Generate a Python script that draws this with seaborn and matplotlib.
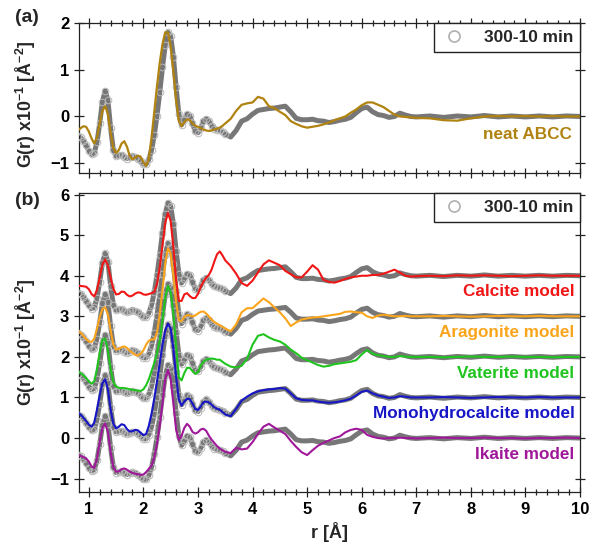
import numpy as np
import pandas as pd
import matplotlib
matplotlib.use("Agg")
import matplotlib.pyplot as plt
from matplotlib.lines import Line2D
from matplotlib.ticker import MultipleLocator
import seaborn as sns

sns.set_style("ticks")
plt.rcParams["font.family"] = ["Liberation Sans", "DejaVu Sans"]
plt.rcParams["font.weight"] = "bold"
plt.rcParams["mathtext.fontset"] = "custom"
plt.rcParams["mathtext.rm"] = "Liberation Sans:bold"
plt.rcParams["mathtext.bf"] = "Liberation Sans:bold"
plt.rcParams["mathtext.default"] = "bf"

# r grid [A]
r = np.round(np.concatenate([np.arange(0.80, 3.501, 0.05),
                             np.arange(3.6, 7.001, 0.1),
                             np.arange(7.25, 10.001, 0.25)]), 2)

# experimental 300-10 min difference PDF
exp_g = [-0.42, -0.45, -0.52, -0.62, -0.73, -0.81, -0.78, -0.55, -0.15, 0.32, 0.55,
         0.35, -0.25, -0.72, -0.85, -0.83, -0.82, -0.87, -0.90, -0.87, -0.84, -0.86, -0.90, -0.96, -1.02, -1.02,
         -0.92, -0.72, -0.40, 0.02, 0.52, 1.05, 1.52, 1.80, 1.72, 1.28, 0.62, 0.05, -0.18, -0.08, 0.05,
         0.02, -0.15, -0.32, -0.35, -0.25, -0.10, -0.05, -0.10, -0.20, -0.26, -0.28, -0.30, -0.33, -0.38,
         -0.44, -0.30, -0.10, -0.05, 0.05, 0.13, 0.15, 0.17, 0.18, 0.20,
         0.22, 0.10, -0.04, -0.07, -0.07, -0.06, -0.09, -0.10, -0.13, -0.11,
         -0.08, -0.06, -0.02, 0.08, 0.17, 0.20, 0.10, 0.04, 0.02, -0.02,
         0.00, 0.07, 0.03, 0.00, -0.01,
         0.01, -0.02, 0.01, -0.01, 0.02, -0.01, 0.01, -0.01, 0.01, -0.01, 0.01, 0.00]

abcc_g = [-0.30, -0.25, -0.21, -0.22, -0.32, -0.47, -0.58, -0.45, -0.15, 0.12, 0.22,
          0.05, -0.35, -0.68, -0.78, -0.72, -0.58, -0.53, -0.65, -0.85, -0.92, -0.88, -0.84, -0.86, -0.98, -1.06,
          -0.90, -0.45, 0.10, 0.65, 1.15, 1.55, 1.80, 1.80, 1.50, 0.95, 0.35, -0.10, -0.21, -0.12, -0.06,
          -0.08, -0.15, -0.20, -0.22, -0.25, -0.28, -0.30, -0.31, -0.30, -0.28, -0.26, -0.24, -0.20, -0.15,
          -0.05, 0.12, 0.25, 0.28, 0.30, 0.42, 0.38, 0.22, 0.18, 0.10,
          0.03, -0.10, -0.16, -0.21, -0.24, -0.22, -0.20, -0.17, -0.13, -0.08,
          -0.04, 0.00, 0.08, 0.15, 0.24, 0.30, 0.30, 0.25, 0.20, 0.12,
          0.04, 0.00, -0.01, -0.02, -0.03,
          -0.04, -0.08, -0.09, -0.04, 0.00, 0.01, 0.00, 0.01, 0.00, 0.01, 0.00, 0.00]

calcite_g = [-0.25, -0.25, -0.26, -0.27, -0.33, -0.45, -0.51, -0.35, -0.05, 0.28, 0.40,
             0.25, -0.05, -0.32, -0.46, -0.45, -0.39, -0.40, -0.47, -0.51, -0.49, -0.44, -0.41, -0.42, -0.46, -0.47,
             -0.45, -0.43, -0.40, -0.20, 0.20, 0.75, 1.30, 1.55, 1.35, 0.70, -0.10, -0.62, -0.62, -0.46, -0.43,
             -0.50, -0.55, -0.55, -0.45, -0.28, -0.15, -0.05, 0.02, 0.15, 0.35, 0.53, 0.60, 0.50, 0.38,
             0.24, 0.05, -0.18, -0.25, -0.12, 0.08, 0.28, 0.38, 0.32, 0.26,
             0.12, 0.04, -0.04, -0.04, 0.10, 0.26, 0.15, -0.10, -0.15, -0.17,
             -0.13, -0.08, -0.04, -0.02, 0.00, 0.00, 0.02, 0.02, 0.05, 0.10,
             0.15, 0.08, 0.00, -0.02, -0.01,
             0.00, -0.01, 0.01, 0.00, 0.01, 0.00, -0.01, 0.00, 0.01, 0.00, 0.00, 0.00]

aragonite_g = [-0.38, -0.40, -0.48, -0.56, -0.62, -0.63, -0.55, -0.30, -0.02, 0.18, 0.22,
               0.05, -0.35, -0.70, -0.82, -0.80, -0.76, -0.74, -0.78, -0.85, -0.90, -0.95, -0.97, -0.92, -0.84, -0.70,
               -0.60, -0.57, -0.57, -0.40, 0.05, 0.65, 1.30, 1.68, 1.55, 1.00, 0.35, -0.10, -0.12, -0.02, 0.03,
               0.02, 0.00, 0.02, 0.07, 0.11, 0.12, 0.07, 0.00, -0.08, -0.14, -0.18, -0.22, -0.26, -0.30,
               -0.37, -0.20, 0.10, 0.20, 0.20, 0.32, 0.44, 0.35, 0.22, 0.10,
               -0.05, -0.24, -0.15, -0.08, -0.05, -0.03, -0.02, 0.00, 0.02, 0.04,
               0.06, 0.11, 0.12, 0.10, 0.09, 0.00, -0.04, 0.02, 0.04, 0.02,
               0.00, 0.00, 0.01, 0.00, 0.00,
               0.00, 0.01, 0.00, -0.01, 0.00, 0.01, 0.00, 0.00, 0.01, 0.00, 0.00, 0.00]

vaterite_g = [-0.36, -0.40, -0.45, -0.52, -0.60, -0.66, -0.60, -0.30, 0.10, 0.42, 0.45,
              0.15, -0.30, -0.62, -0.73, -0.76, -0.77, -0.77, -0.78, -0.80, -0.81, -0.82, -0.83, -0.84, -0.80, -0.70,
              -0.55, -0.35, -0.15, 0.10, 0.40, 0.90, 1.45, 1.75, 1.60, 1.05, 0.25, -0.50, -0.58, -0.40, -0.27,
              -0.27, -0.35, -0.42, -0.38, -0.22, -0.12, -0.07, -0.05, -0.04, -0.05, -0.07, -0.07, -0.12, -0.17,
              -0.24, -0.26, -0.22, -0.05, 0.30, 0.52, 0.56, 0.48, 0.42, 0.38,
              0.30, 0.18, 0.09, -0.02, -0.08, -0.14, -0.20, -0.24, -0.22, -0.18,
              -0.16, -0.14, -0.12, -0.08, 0.06, 0.17, 0.08, 0.04, 0.02, 0.00,
              0.00, 0.02, 0.01, 0.00, 0.00,
              0.00, -0.01, 0.00, 0.01, 0.00, 0.00, 0.01, 0.00, 0.00, -0.01, 0.00, 0.00]

mhc_g = [-0.37, -0.42, -0.50, -0.58, -0.67, -0.72, -0.62, -0.30, 0.05, 0.35, 0.45,
         0.20, -0.30, -0.65, -0.76, -0.72, -0.66, -0.68, -0.78, -0.84, -0.83, -0.80, -0.81, -0.87, -0.93, -0.90,
         -0.70, -0.40, -0.02, 0.40, 0.85, 1.30, 1.65, 1.82, 1.70, 1.20, 0.50, -0.05, -0.20, -0.10, -0.03,
         -0.04, -0.15, -0.28, -0.31, -0.22, -0.12, -0.10, -0.12, -0.18, -0.24, -0.28, -0.30, -0.36, -0.42,
         -0.46, -0.28, -0.08, 0.02, 0.10, 0.15, 0.18, 0.20, 0.21, 0.23,
         0.22, 0.10, -0.02, -0.06, -0.07, -0.07, -0.10, -0.12, -0.13, -0.12,
         -0.10, -0.07, -0.03, 0.05, 0.14, 0.17, 0.10, 0.05, 0.02, -0.01,
         0.00, 0.03, 0.02, 0.00, 0.00,
         0.00, 0.01, 0.00, -0.01, 0.00, 0.01, 0.00, 0.00, 0.01, 0.00, 0.00, 0.00]

ikaite_g = [-0.42, -0.44, -0.47, -0.50, -0.58, -0.70, -0.74, -0.50, -0.10, 0.25, 0.36,
            0.15, -0.35, -0.72, -0.83, -0.82, -0.77, -0.75, -0.78, -0.83, -0.86, -0.88, -0.89, -0.91, -0.90, -0.84,
            -0.76, -0.68, -0.48, -0.15, 0.30, 0.85, 1.45, 1.68, 1.45, 0.85, 0.20, -0.05, 0.05, 0.25, 0.35,
            0.28, 0.15, 0.11, 0.14, 0.21, 0.23, 0.18, 0.06, -0.04, -0.12, -0.20, -0.26, -0.30, -0.34,
            -0.37, -0.24, -0.28, -0.26, -0.10, 0.10, 0.28, 0.35, 0.26, 0.18,
            0.10, -0.07, -0.22, -0.35, -0.42, -0.30, -0.19, -0.12, -0.06, 0.00,
            0.04, 0.14, 0.20, 0.23, 0.20, 0.08, 0.03, 0.00, -0.01, 0.00,
            0.00, 0.01, 0.00, 0.00, -0.01,
            0.00, 0.01, 0.00, 0.00, 0.01, 0.00, 0.00, -0.01, 0.00, 0.00, 0.01, 0.00]

models = ["Calcite model", "Aragonite model", "Vaterite model",
          "Monohydrocalcite model", "Ikaite model"]
model_g = [calcite_g, aragonite_g, vaterite_g, mhc_g, ikaite_g]
offsets = [4, 3, 2, 1, 0]
model_colors = ["#f01616", "#fba51c", "#1fc41f", "#1616c6", "#a0189a"]
abcc_color = "#b0820f"
exp_line = "#777777"
exp_circ = "#b8b8b8"

df = pd.DataFrame({"r": r, "exp": exp_g, "abcc": abcc_g})
for name, g in zip(models, model_g):
    df[name] = g
dense = df[df["r"] <= 3.5]


def draw_exp(ax, off):
    sns.lineplot(x=df["r"], y=df["exp"] + off, ax=ax, color=exp_line, lw=3.6, zorder=2)
    ax.plot(dense["r"], dense["exp"] + off, ls="none", marker="o", ms=4.8, mfc="none",
            mec=exp_circ, mew=0.7, zorder=3)


fig = plt.figure(figsize=(5.92, 5.52), dpi=100)
ax_a = fig.add_axes([0.1334, 0.6866, 0.8463, 0.2717])
ax_b = fig.add_axes([0.1334, 0.1087, 0.8463, 0.5417])

# (a) neat ABCC
draw_exp(ax_a, 0)
sns.lineplot(x=df["r"], y=df["abcc"], ax=ax_a, color=abcc_color, lw=1.6, zorder=4)
ax_a.text(9.86, -0.39, "neat ABCC", color=abcc_color, ha="right", va="center",
          fontsize=12.3, fontweight="bold")

# (b) crystalline models
for off in offsets:
    draw_exp(ax_b, off)
for name, off, col in zip(models, offsets, model_colors):
    sns.lineplot(x=df["r"], y=df[name] + off, ax=ax_b, color=col, lw=1.5, zorder=4)
    ax_b.text(9.9, off - 0.4, name, color=col, ha="right", va="center",
              fontsize=12.3, fontweight="bold")

leg_handle = [Line2D([], [], ls="none", marker="o", ms=8, mfc="none", mec="#b0b0b0", mew=1.2)]
for ax in (ax_a, ax_b):
    ax.set_xlim(0.82, 10)
    ax.xaxis.set_major_locator(MultipleLocator(1))
    ax.xaxis.set_minor_locator(MultipleLocator(0.2))
    ax.set_xlabel("")
    ax.set_ylabel(r"G(r) x10$^{-1}$ [Å$^{-2}$]", fontsize=12.8, fontweight="bold")
    for s in ax.spines.values():
        s.set_linewidth(0.9)
        s.set_color("#222222")
    ax.tick_params(which="both", direction="inout", width=0.9, labelsize=12,
                   right=True, colors="#222222", labelcolor="black")
    ax.tick_params(which="major", length=7)
    ax.tick_params(which="minor", length=4)
    ax.tick_params(axis="y", which="minor", left=False, right=False)
    leg = ax.legend(leg_handle, ["300-10 min"], loc="upper right", bbox_to_anchor=(1, 1),
                    borderaxespad=0, fancybox=False, framealpha=1, edgecolor="#222222",
                    prop={"weight": "bold", "size": 12.4}, handletextpad=0.9,
                    borderpad=0.4, handlelength=1.6)
    leg.get_frame().set_linewidth(1.0)
    leg.set_zorder(10)

ax_a.set_ylim(-1.21, 2.0)
ax_a.set_yticks([-1, 0, 1, 2])
ax_a.tick_params(axis="x", which="both", top=True, labelbottom=False)
ax_a.yaxis.set_label_coords(-0.082, 0.46)

ax_b.set_ylim(-1.33, 6.04)
ax_b.set_yticks(range(-1, 7))
ax_b.tick_params(axis="x", which="both", top=False)
ax_b.set_xlabel("r [Å]", fontsize=13, fontweight="bold")
ax_b.yaxis.set_label_coords(-0.082, 0.5)

fig.text(27 / 592, 1 - 17 / 552, "(a)", fontsize=14, fontweight="bold", ha="center", va="center")
fig.text(27 / 592, 1 - 200 / 552, "(b)", fontsize=14, fontweight="bold", ha="center", va="center")

fig.savefig("out.png", dpi=100)
